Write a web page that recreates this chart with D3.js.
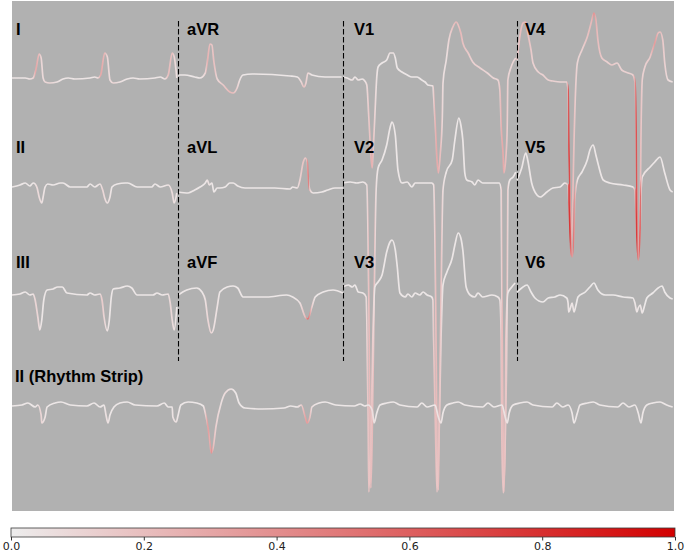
<!DOCTYPE html>
<html>
<head>
<meta charset="utf-8">
<script src="https://cdn.jsdelivr.net/npm/d3@7"></script>
<style>
  body { margin: 0; background: #ffffff; }
  svg { display: block; }
</style>
</head>
<body>
<div id="chart"></div>
<script>
// each point: [time (s), amplitude (mV), saliency 0..1]
const leadI = [[0.00,0.00,.04],[0.20,0.00,.04],[0.27,-0.02,.06],[0.32,0.00,.1],[0.36,0.16,.3],[0.41,0.48,.2],[0.44,0.40,.1],[0.47,0.00,.08],[0.50,-0.08,.1],[0.57,-0.10,.1],[0.68,-0.08,.06],[0.77,-0.02,.04],[0.85,0.00,.04],[0.95,-0.02,.04],[1.18,0.00,.04],[1.25,0.02,.04],[1.30,0.00,.08],[1.34,0.06,.3],[1.40,0.50,.22],[1.44,0.42,.1],[1.48,-0.04,.08],[1.53,-0.10,.1],[1.63,-0.08,.06],[1.74,-0.02,.04],[1.83,0.00,.04],[1.93,-0.02,.04],[2.16,0.00,.04],[2.24,0.02,.04],[2.31,-0.02,.06],[2.36,0.06,.2],[2.42,0.50,.2],[2.45,0.42,.1],[2.49,0.00,.06]];
const leadII = [[0.00,-0.02,.03],[0.12,0.02,.03],[0.20,0.06,.03],[0.27,0.00,.03],[0.32,0.06,.03],[0.35,0.04,.05],[0.38,-0.04,.08],[0.41,-0.22,.08],[0.45,-0.34,.06],[0.47,-0.22,.05],[0.50,-0.02,.04],[0.54,0.04,.03],[0.62,0.02,.03],[0.73,0.06,.03],[0.77,0.06,.03],[0.88,-0.02,.03],[1.13,-0.02,.03],[1.18,0.04,.03],[1.25,-0.02,.03],[1.33,0.04,.05],[1.37,-0.08,.1],[1.40,-0.24,.08],[1.44,-0.34,.06],[1.48,-0.22,.05],[1.51,-0.02,.03],[1.59,0.04,.03],[1.71,0.06,.03],[1.75,0.06,.03],[1.89,-0.02,.03],[2.11,-0.02,.03],[2.16,0.04,.03],[2.24,-0.02,.03],[2.36,0.02,.05],[2.42,-0.14,.08],[2.45,-0.34,.06],[2.49,-0.14,.05]];
const leadIII = [[0.00,0.02,.03],[0.12,0.04,.03],[0.20,0.08,.03],[0.27,0.02,.03],[0.32,0.04,.05],[0.35,-0.08,.1],[0.39,-0.42,.1],[0.42,-0.68,.05],[0.45,-0.48,.03],[0.48,-0.08,.03],[0.53,0.12,.03],[0.62,0.14,.03],[0.69,0.18,.03],[0.76,0.18,.03],[0.83,0.06,.03],[1.13,0.02,.03],[1.18,0.06,.03],[1.25,0.02,.03],[1.33,0.04,.06],[1.36,-0.08,.15],[1.39,-0.42,.1],[1.44,-0.70,.05],[1.47,-0.48,.03],[1.50,-0.02,.03],[1.53,0.14,.03],[1.63,0.16,.03],[1.74,0.20,.03],[1.81,0.16,.03],[1.89,0.02,.03],[2.13,0.02,.03],[2.19,0.06,.03],[2.27,0.02,.03],[2.36,0.04,.06],[2.39,-0.14,.1],[2.42,-0.48,.08],[2.45,-0.68,.05],[2.49,-0.22,.03]];
const leadAVR = [[2.51,0.06,.03],[2.61,0.06,.03],[2.76,0.02,.03],[2.84,0.00,.03],[2.92,0.10,.1],[2.95,0.32,.25],[2.99,0.68,.2],[3.02,0.66,.15],[3.05,0.32,.2],[3.10,-0.02,.1],[3.19,-0.14,.15],[3.29,-0.28,.22],[3.34,-0.30,.2],[3.40,-0.20,.12],[3.44,-0.04,.06],[3.49,0.06,.03],[3.63,0.08,.03],[4.20,0.04,.03],[4.31,0.02,.03],[4.37,-0.08,.1],[4.41,-0.18,.2],[4.44,-0.10,.12],[4.47,0.10,.1],[4.53,0.06,.03],[4.73,0.02,.03],[4.98,0.02,.03]];
const leadAVL = [[2.51,-0.12,.03],[2.66,-0.14,.03],[2.76,-0.08,.03],[2.84,-0.02,.03],[2.92,0.06,.03],[2.95,0.12,.05],[2.98,0.02,.05],[3.02,0.06,.03],[3.05,-0.12,.03],[3.10,-0.04,.03],[3.14,-0.04,.03],[3.22,-0.02,.03],[3.29,0.06,.03],[3.34,0.06,.03],[3.41,0.00,.03],[3.52,-0.04,.03],[3.97,-0.04,.03],[4.20,-0.06,.03],[4.24,-0.02,.03],[4.31,-0.04,.05],[4.35,0.12,.12],[4.40,0.48,.18],[4.43,0.56,.15],[4.46,0.48,.25],[4.47,0.26,.6],[4.50,-0.08,.1],[4.55,-0.14,.03],[4.68,-0.12,.03],[4.77,-0.08,.03],[4.88,-0.04,.03],[5.00,-0.04,.03]];
const leadAVF = [[2.51,0.02,.03],[2.64,0.12,.03],[2.79,0.16,.03],[2.87,0.08,.03],[2.92,-0.08,.06],[2.96,-0.48,.1],[3.01,-0.74,.1],[3.04,-0.68,.06],[3.10,-0.22,.05],[3.14,0.08,.03],[3.25,0.18,.03],[3.34,0.20,.03],[3.41,0.16,.03],[3.49,-0.02,.03],[3.85,-0.02,.03],[4.15,0.02,.03],[4.24,-0.02,.03],[4.35,-0.14,.06],[4.43,-0.42,.2],[4.47,-0.46,.55],[4.53,-0.22,.12],[4.58,-0.02,.03],[4.70,0.08,.03],[4.85,0.12,.03],[5.00,0.06,.03]];
const leadV1 = [[5.00,0.02,.03],[5.06,0.00,.03],[5.14,-0.04,.05],[5.18,0.02,.03],[5.23,-0.04,.05],[5.29,-0.02,.03],[5.33,-0.06,.05],[5.36,-0.14,.08],[5.39,-0.78,.15],[5.42,-1.50,.22],[5.44,-1.80,.28],[5.45,-1.58,.2],[5.48,-0.78,.1],[5.51,0.02,.05],[5.53,0.22,.03],[5.59,0.30,.03],[5.66,0.36,.03],[5.71,0.50,.05],[5.76,0.50,.05],[5.79,0.40,.03],[5.82,0.20,.03],[5.89,0.12,.03],[5.97,0.06,.03],[6.04,0.02,.03],[6.12,0.02,.03],[6.19,-0.04,.03],[6.24,-0.08,.03],[6.28,-0.14,.03],[6.36,-0.16,.05],[6.37,-0.38,.15],[6.40,-1.10,.25],[6.42,-1.64,.3],[6.44,-1.90,.25],[6.47,-1.50,.2],[6.50,-0.78,.1],[6.51,-0.10,.06],[6.56,0.36,.06],[6.60,0.76,.1],[6.66,1.02,.18],[6.71,1.12,.22],[6.74,1.06,.18],[6.78,0.90,.22],[6.81,0.70,.18],[6.89,0.50,.15],[6.96,0.32,.12],[7.07,0.20,.12],[7.18,0.10,.1],[7.27,0.00,.1],[7.34,-0.04,.1],[7.37,-0.24,.15],[7.39,-0.98,.25],[7.42,-1.58,.3],[7.43,-1.90,.25],[7.46,-1.58,.2],[7.48,-0.98,.15],[7.49,-0.04,.1],[7.54,0.22,.1],[7.57,0.32,.1],[7.61,0.40,.12]];
const leadV2 = [[5.00,0.06,.03],[5.11,0.08,.03],[5.21,0.06,.03],[5.30,0.08,.03],[5.36,0.02,.06],[5.39,-2.28,.2],[5.41,-5.08,.22],[5.42,-6.04,.18],[5.44,-5.08,.22],[5.47,-2.28,.18],[5.50,-0.08,.06],[5.53,0.36,.03],[5.59,0.52,.03],[5.66,0.82,.03],[5.71,1.16,.03],[5.74,1.28,.03],[5.79,1.02,.03],[5.83,0.32,.03],[5.89,0.06,.03],[5.97,0.08,.03],[6.04,-0.02,.03],[6.09,0.06,.03],[6.16,0.06,.03],[6.24,0.06,.03],[6.34,0.06,.03],[6.37,0.02,.06],[6.40,-2.28,.2],[6.42,-5.08,.22],[6.44,-6.08,.18],[6.45,-5.08,.22],[6.48,-2.28,.18],[6.51,-0.08,.06],[6.56,0.28,.03],[6.65,0.52,.03],[6.69,0.92,.03],[6.75,1.36,.03],[6.78,1.22,.03],[6.81,0.92,.03],[6.84,0.26,.03],[6.87,0.12,.03],[6.95,0.08,.03],[6.99,0.02,.03],[7.04,0.12,.03],[7.11,0.06,.03],[7.27,0.06,.03],[7.36,0.06,.03],[7.39,-0.08,.06],[7.40,-2.28,.2],[7.42,-5.08,.22],[7.43,-6.12,.18],[7.45,-5.08,.22],[7.48,-2.28,.18],[7.49,-0.08,.06],[7.52,0.12,.03],[7.57,0.18,.03],[7.61,0.28,.03]];
const leadV3 = [[5.00,0.18,.03],[5.08,0.22,.03],[5.14,0.18,.03],[5.18,0.22,.03],[5.23,0.08,.03],[5.30,0.06,.03],[5.35,-0.02,.06],[5.36,-0.48,.12],[5.38,-2.48,.2],[5.39,-3.92,.15],[5.42,-2.88,.2],[5.45,-0.88,.12],[5.48,0.18,.03],[5.53,0.28,.03],[5.59,0.42,.03],[5.66,0.88,.03],[5.71,1.08,.03],[5.74,1.12,.03],[5.79,0.92,.03],[5.82,0.58,.03],[5.86,0.06,.03],[5.94,-0.02,.03],[5.98,0.04,.03],[6.04,-0.02,.03],[6.09,0.06,.03],[6.16,0.02,.03],[6.21,0.08,.03],[6.27,0.02,.03],[6.34,-0.02,.03],[6.36,-0.08,.06],[6.37,-0.88,.18],[6.40,-2.88,.2],[6.42,-3.92,.15],[6.45,-2.88,.2],[6.48,-0.88,.12],[6.51,0.22,.03],[6.57,0.48,.03],[6.65,0.76,.03],[6.69,1.02,.03],[6.74,1.26,.03],[6.78,1.16,.03],[6.81,0.92,.03],[6.86,0.18,.03],[6.92,0.02,.03],[6.99,-0.02,.03],[7.04,0.06,.03],[7.11,-0.02,.03],[7.25,0.02,.03],[7.34,-0.02,.03],[7.37,-0.08,.06],[7.39,-0.88,.18],[7.40,-2.88,.2],[7.42,-3.94,.15],[7.45,-2.88,.2],[7.46,-0.88,.12],[7.49,0.06,.03],[7.55,0.18,.03],[7.60,0.26,.03]];
const leadV4 = [[7.63,0.36,.15],[7.67,0.82,.2],[7.72,1.10,.2],[7.76,1.12,.25],[7.79,0.90,.2],[7.84,0.56,.15],[7.87,0.30,.12],[7.95,0.12,.12],[8.02,0.06,.12],[8.10,-0.04,.12],[8.17,-0.06,.12],[8.28,-0.08,.1],[8.38,-0.08,.12],[8.40,-0.24,.35],[8.41,-1.24,.8],[8.43,-2.44,.6],[8.44,-3.54,.3],[8.47,-2.44,.2],[8.49,-1.24,.18],[8.52,-0.04,.12],[8.54,0.30,.1],[8.61,0.56,.12],[8.69,0.82,.18],[8.76,1.16,.22],[8.79,1.30,.4],[8.82,1.16,.25],[8.85,0.76,.2],[8.91,0.40,.15],[8.99,0.32,.12],[9.06,0.26,.15],[9.14,0.30,.12],[9.21,0.16,.12],[9.31,0.10,.12],[9.38,0.06,.12],[9.41,-0.08,.3],[9.43,-1.24,.7],[9.44,-2.44,.55],[9.46,-3.60,.3],[9.49,-2.44,.2],[9.50,-1.24,.18],[9.52,-0.04,.12],[9.56,0.22,.12],[9.64,0.42,.15],[9.71,0.70,.35],[9.76,0.90,.2],[9.79,0.92,.2],[9.83,0.76,.15],[9.86,0.30,.12],[9.91,-0.04,.08],[9.98,-0.08,.06]];
const leadV5 = [[7.63,0.12,.03],[7.70,0.36,.03],[7.76,0.66,.03],[7.79,0.52,.03],[7.85,0.06,.03],[7.93,-0.18,.03],[7.98,-0.22,.03],[8.08,-0.12,.03],[8.17,-0.04,.03],[8.28,-0.02,.03],[8.35,0.06,.03],[8.40,0.02,.2],[8.41,-0.28,.85],[8.43,-0.88,.7],[8.46,-1.42,.3],[8.49,-0.88,.55],[8.50,-0.28,.3],[8.54,0.12,.05],[8.61,0.28,.03],[8.69,0.52,.03],[8.73,0.72,.03],[8.78,0.82,.03],[8.82,0.62,.03],[8.85,0.46,.03],[8.93,0.12,.03],[9.03,0.06,.03],[9.23,0.02,.03],[9.38,-0.02,.03],[9.41,-0.08,.25],[9.43,-0.68,.8],[9.46,-1.48,.35],[9.49,-0.78,.7],[9.50,-0.18,.3],[9.52,0.18,.05],[9.64,0.38,.03],[9.71,0.48,.03],[9.79,0.58,.03],[9.86,0.26,.03],[9.94,-0.08,.03],[9.98,-0.12,.03]];
const leadV6 = [[7.63,0.08,.02],[7.70,0.16,.02],[7.78,0.22,.02],[7.84,0.08,.02],[7.90,-0.04,.02],[8.02,-0.12,.02],[8.10,-0.04,.02],[8.20,-0.02,.02],[8.28,0.02,.02],[8.38,-0.04,.02],[8.40,-0.14,.04],[8.41,-0.32,.04],[8.44,-0.22,.04],[8.46,-0.14,.04],[8.49,-0.32,.04],[8.52,-0.18,.02],[8.55,-0.02,.02],[8.66,0.08,.02],[8.73,0.18,.02],[8.79,0.26,.02],[8.85,0.12,.02],[8.96,0.02,.02],[9.08,0.02,.02],[9.23,-0.02,.02],[9.38,-0.04,.02],[9.41,-0.14,.04],[9.44,-0.32,.04],[9.46,-0.24,.04],[9.49,-0.18,.04],[9.52,-0.34,.04],[9.55,-0.22,.02],[9.59,-0.04,.02],[9.68,0.06,.02],[9.76,0.16,.02],[9.82,0.20,.02],[9.86,0.08,.02],[9.94,-0.04,.02],[9.98,-0.06,.02]];
const rhythmII = [[0.00,0.02,.03],[0.15,0.04,.03],[0.24,0.08,.03],[0.35,0.00,.03],[0.39,0.04,.05],[0.44,-0.16,.12],[0.45,-0.32,.08],[0.50,-0.20,.05],[0.53,0.00,.03],[0.65,0.08,.03],[0.74,0.10,.03],[0.88,0.04,.03],[1.13,0.02,.03],[1.24,0.08,.03],[1.33,0.00,.03],[1.39,0.04,.03],[1.42,-0.16,.06],[1.45,-0.32,.06],[1.48,-0.16,.03],[1.54,0.00,.03],[1.63,0.08,.03],[1.74,0.10,.03],[1.86,0.04,.03],[2.19,0.02,.03],[2.30,0.08,.03],[2.36,0.00,.03],[2.42,0.00,.03],[2.43,-0.20,.06],[2.48,-0.30,.06],[2.51,-0.16,.03],[2.55,0.04,.03],[2.66,0.10,.03],[2.79,0.08,.03],[2.89,0.02,.03],[2.92,-0.12,.12],[2.96,-0.40,.35],[2.99,-0.72,.25],[3.01,-0.92,.4],[3.04,-0.80,.2],[3.08,-0.40,.12],[3.16,0.08,.06],[3.22,0.28,.08],[3.31,0.36,.05],[3.38,0.28,.03],[3.43,0.08,.03],[3.52,-0.02,.03],[3.78,-0.04,.03],[4.11,-0.02,.03],[4.21,0.02,.03],[4.31,0.00,.03],[4.37,0.04,.12],[4.43,-0.20,.3],[4.46,-0.32,.35],[4.50,-0.20,.2],[4.53,0.00,.06],[4.64,0.08,.03],[4.73,0.10,.03],[4.89,0.04,.03],[5.17,0.02,.03],[5.26,0.06,.03],[5.33,0.02,.03],[5.38,0.04,.03],[5.44,-0.06,.06],[5.47,-0.32,.06],[5.51,-0.12,.03],[5.56,0.04,.03],[5.66,0.08,.03],[5.76,0.10,.03],[5.86,0.04,.03],[6.12,0.00,.03],[6.19,0.08,.03],[6.27,0.00,.03],[6.39,0.04,.03],[6.44,-0.20,.05],[6.48,-0.32,.05],[6.51,-0.12,.03],[6.57,0.04,.03],[6.66,0.08,.03],[6.74,0.10,.03],[6.84,0.04,.03],[7.11,0.00,.03],[7.19,0.08,.03],[7.28,0.00,.03],[7.40,0.04,.03],[7.45,-0.20,.05],[7.48,-0.32,.05],[7.51,-0.12,.03],[7.57,0.04,.03],[7.67,0.08,.03],[7.78,0.10,.03],[7.87,0.04,.03],[8.16,0.00,.03],[8.23,0.08,.03],[8.32,0.00,.03],[8.40,0.04,.03],[8.46,-0.12,.03],[8.49,-0.32,.03],[8.54,-0.12,.03],[8.58,0.04,.03],[8.69,0.08,.03],[8.78,0.10,.03],[8.88,0.04,.03],[9.15,0.00,.03],[9.23,0.08,.03],[9.32,0.00,.03],[9.41,0.04,.03],[9.46,-0.12,.03],[9.50,-0.32,.03],[9.53,-0.12,.03],[9.59,0.04,.03],[9.68,0.08,.03],[9.79,0.10,.03],[9.89,0.04,.03],[9.98,0.00,.03]];

// 3 rows x 4 columns, column-major
const leadNames = ["I", "II", "III", "aVR", "aVL", "aVF", "V1", "V2", "V3", "V4", "V5", "V6"];
const leadData = [leadI, leadII, leadIII, leadAVR, leadAVL, leadAVF, leadV1, leadV2, leadV3, leadV4, leadV5, leadV6];
const rhythmName = "II (Rhythm Strip)";
const colorTicks = [0, 0.2, 0.4, 0.6, 0.8, 1.0];

/** CONSTANTS */
const width = 685, height = 557;
const plot = { left: 12, right: 674, top: 1, bottom: 511 };
const rowBase = [78, 186, 296, 407];     // isoelectric line of each row
const pxPerMv = 50;
const labelX = [16, 187, 354, 525];
const labelY = [35, 153, 268, 382];
const labelFont = "'Liberation Sans', Arial, Helvetica, sans-serif";

/** SCALES */
const xScale = d3.scaleLinear().domain([0, 10]).range([plot.left, plot.right]);
const yScales = rowBase.map(b => d3.scaleLinear().domain([0, 1]).range([b, b - pxPerMv]));
const color = d3.scaleLinear().domain([0, 1])
  .range(["#ededed", "#d20000"]).interpolate(d3.interpolateRgb).clamp(true);

/** DRAWING ELEMENTS */
const svg = d3.select("#chart").append("svg")
  .attr("width", width).attr("height", height);
const defs = svg.append("defs");

defs.append("clipPath").attr("id", "plotclip")
  .append("rect")
  .attr("x", plot.left).attr("y", plot.top)
  .attr("width", plot.right - plot.left).attr("height", plot.bottom - plot.top);

svg.append("rect")
  .attr("x", plot.left).attr("y", plot.top)
  .attr("width", plot.right - plot.left).attr("height", plot.bottom - plot.top)
  .attr("fill", "#b1b1b1");

const traces = svg.append("g").attr("clip-path", "url(#plotclip)");

// saliency along a trace -> horizontal gradient on its stroke
function drawTrace(data, yScale, id) {
  const xa = xScale(data[0][0]), xb = xScale(data[data.length - 1][0]);
  const grad = defs.append("linearGradient")
    .attr("id", id)
    .attr("gradientUnits", "userSpaceOnUse")
    .attr("x1", xa).attr("x2", xb).attr("y1", 0).attr("y2", 0);
  grad.selectAll("stop")
    .data(data)
    .join("stop")
    .attr("offset", d => (xScale(d[0]) - xa) / (xb - xa))
    .attr("stop-color", d => color(d[2]));

  const line = d3.line()
    .x(d => xScale(d[0]))
    .y(d => yScale(d[1]))
    .curve(d3.curveMonotoneX);

  traces.append("path")
    .datum(data)
    .attr("d", line)
    .attr("fill", "none")
    .attr("stroke", `url(#${id})`)
    .attr("stroke-width", 1.7)
    .attr("stroke-linejoin", "round");
}

leadData.forEach((data, i) => drawTrace(data, yScales[i % 3], "sal" + i));
drawTrace(rhythmII, yScales[3], "salR");

// column separators at the start of columns 2..4
const colStarts = [1, 2, 3].map(c => leadData[c * 3][0][0]);
svg.selectAll("line.sep")
  .data(colStarts)
  .join("line")
  .attr("class", "sep")
  .attr("x1", d => Math.round(xScale(d)) + 0.5)
  .attr("x2", d => Math.round(xScale(d)) + 0.5)
  .attr("y1", 21).attr("y2", 361)
  .attr("stroke", "#000")
  .attr("stroke-width", 1.1)
  .attr("stroke-dasharray", "5.5,2.5");

// lead labels
svg.selectAll("text.lead")
  .data(leadNames)
  .join("text")
  .attr("class", "lead")
  .attr("x", (d, i) => labelX[Math.floor(i / 3)])
  .attr("y", (d, i) => labelY[i % 3])
  .attr("font-family", labelFont)
  .attr("font-weight", "bold")
  .attr("font-size", 16.5)
  .attr("fill", "#000")
  .text(d => d);

svg.append("text")
  .attr("x", 15).attr("y", labelY[3])
  .attr("font-family", labelFont)
  .attr("font-weight", "bold")
  .attr("font-size", 16.5)
  .attr("fill", "#000")
  .text(rhythmName);

/** COLORBAR */
const cb = { x0: 11, x1: 675, y: 528, h: 9 };
const cbScale = d3.scaleLinear().domain([0, 1]).range([cb.x0, cb.x1]);

const cbGrad = defs.append("linearGradient").attr("id", "cbgrad");
cbGrad.selectAll("stop")
  .data(d3.range(0, 1.0001, 0.1))
  .join("stop")
  .attr("offset", d => d)
  .attr("stop-color", d => color(d));

svg.append("rect")
  .attr("x", cb.x0).attr("y", cb.y)
  .attr("width", cb.x1 - cb.x0).attr("height", cb.h)
  .attr("fill", "url(#cbgrad)")
  .attr("stroke", "#3a3a3a")
  .attr("stroke-width", 0.8);

const cbAxis = d3.axisBottom(cbScale)
  .tickValues(colorTicks)
  .tickFormat(d3.format(".1f"))
  .tickSize(3.5)
  .tickPadding(2);

const axisG = svg.append("g")
  .attr("transform", `translate(0, ${cb.y + cb.h})`)
  .call(cbAxis);
axisG.select(".domain").remove();
axisG.selectAll("line").attr("stroke", "#333");
axisG.selectAll("text")
  .attr("font-family", "'DejaVu Sans', sans-serif")
  .attr("font-size", 11)
  .attr("fill", "#222");
</script>
</body>
</html>
